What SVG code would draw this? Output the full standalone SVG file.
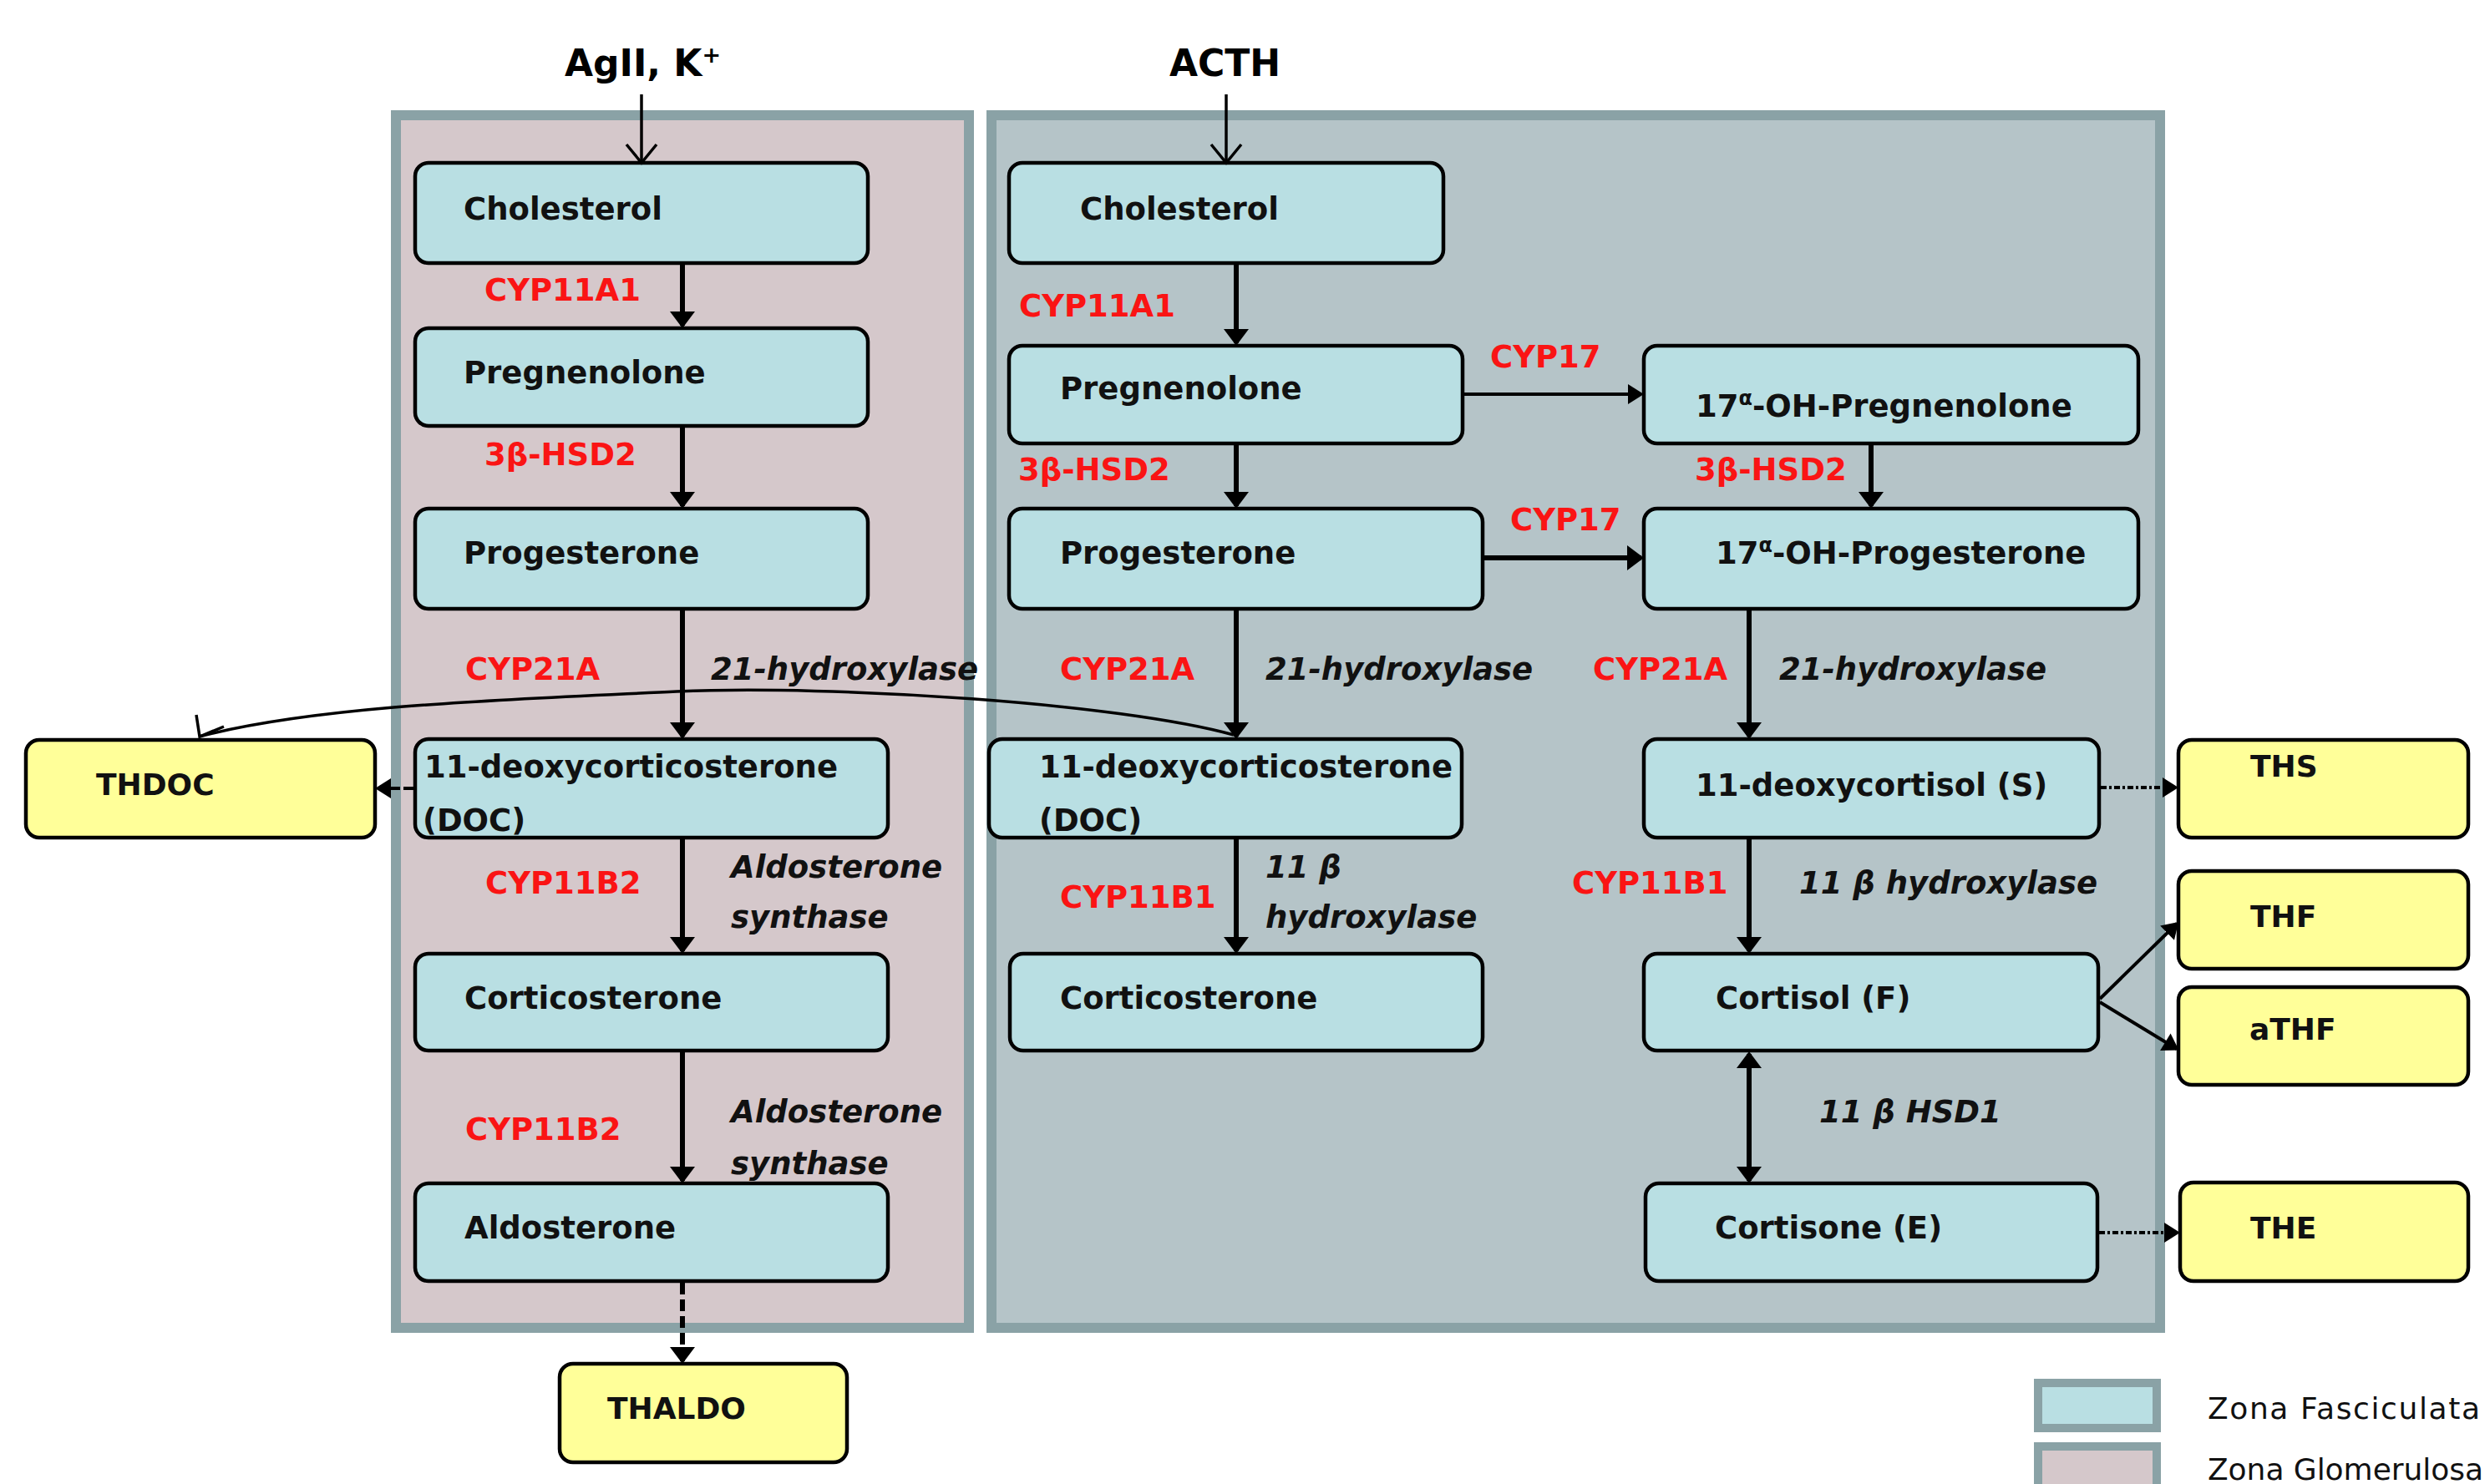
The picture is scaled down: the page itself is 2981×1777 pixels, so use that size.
<svg xmlns="http://www.w3.org/2000/svg" width="2981" height="1777" viewBox="0 0 2981 1777">
<style>
.bg{fill:#ffffff}
.pl{fill:#d5c8cb;stroke:#8aa2a6;stroke-width:12}
.pr{fill:#b5c4c8;stroke:#8aa2a6;stroke-width:12}
.box{fill:#b9dfe3;stroke:#000;stroke-width:4.5}
.ybox{fill:#ffff99;stroke:#000;stroke-width:4.5}
.t{font-family:"DejaVu Sans",Verdana,sans-serif;font-weight:bold;font-size:37px;fill:#111}
.ty{font-family:"DejaVu Sans",Verdana,sans-serif;font-weight:bold;font-size:36px;fill:#111}
.enz{font-family:"DejaVu Sans",Verdana,sans-serif;font-weight:bold;font-size:37px;fill:#fa1414}
.it{font-family:"DejaVu Sans",Verdana,sans-serif;font-weight:bold;font-style:italic;font-size:37px;fill:#111}
.title{font-family:"DejaVu Sans",Verdana,sans-serif;font-weight:bold;font-size:44px;fill:#000}
.leg{font-family:"DejaVu Sans",Verdana,sans-serif;font-size:36px;fill:#111}
.main{fill:none;stroke:#000;stroke-width:6;marker-end:url(#ah)}
.thin{fill:none;stroke:#000;stroke-width:4;marker-end:url(#ahs)}
.inp{fill:none;stroke:#000;stroke-width:3.5;marker-end:url(#open)}
.dd{fill:none;stroke:#000;stroke-width:4;stroke-dasharray:7,3,3,3;marker-end:url(#ahs)}
</style>
<defs>
<marker id="ah" markerUnits="userSpaceOnUse" markerWidth="24" markerHeight="32" refX="17" refY="15" orient="auto" overflow="visible"><path d="M0,0 L20,15 L0,30 Z" fill="#000"/></marker>
<marker id="ahd" markerUnits="userSpaceOnUse" markerWidth="24" markerHeight="32" refX="17" refY="15" orient="auto-start-reverse" overflow="visible"><path d="M0,0 L20,15 L0,30 Z" fill="#000"/></marker>
<marker id="ahs" markerUnits="userSpaceOnUse" markerWidth="22" markerHeight="26" refX="16" refY="12" orient="auto" overflow="visible"><path d="M0,0 L19,12 L0,24 Z" fill="#000"/></marker>
<marker id="open" markerUnits="userSpaceOnUse" markerWidth="30" markerHeight="40" refX="0" refY="0" orient="auto" overflow="visible"><path d="M-22,-18 L0,0 L-22,18" fill="none" stroke="#000" stroke-width="3.5"/></marker>
</defs>
<rect class="bg" x="0" y="0" width="2981" height="1777"/>

<g id="panels">
<rect id="zona-glomerulosa" class="pl" x="474" y="138" width="686" height="1452"/>
<rect id="zona-fasciculata" class="pr" x="1187" y="138" width="1399" height="1452"/>
</g>

<g id="titles">
<text class="title" x="676" y="91">AgII, K<tspan font-size="27" dy="-16">+</tspan></text>
<text class="title" x="1400" y="91">ACTH</text>
</g>

<g id="nodes">
<g id="chol-l"><rect class="box" x="497" y="195" width="542" height="120" rx="16"/><text class="t" x="555" y="263">Cholesterol</text></g>
<g id="preg-l"><rect class="box" x="497" y="393" width="542" height="117" rx="16"/><text class="t" x="555" y="459">Pregnenolone</text></g>
<g id="prog-l"><rect class="box" x="497" y="609" width="542" height="120" rx="16"/><text class="t" x="555" y="675">Progesterone</text></g>
<g id="doc-l"><rect class="box" x="497" y="885" width="566" height="118" rx="16"/><text class="t" x="508" y="931">11-deoxycorticosterone</text><text class="t" x="506" y="995">(DOC)</text></g>
<g id="cort-l"><rect class="box" x="497" y="1142" width="566" height="116" rx="16"/><text class="t" x="556" y="1208">Corticosterone</text></g>
<g id="aldo"><rect class="box" x="497" y="1417" width="566" height="117" rx="16"/><text class="t" x="556" y="1483">Aldosterone</text></g>

<g id="chol-r"><rect class="box" x="1208" y="195" width="520" height="120" rx="16"/><text class="t" x="1293" y="263">Cholesterol</text></g>
<g id="preg-r"><rect class="box" x="1208" y="414" width="543" height="117" rx="16"/><text class="t" x="1269" y="478">Pregnenolone</text></g>
<g id="prog-r"><rect class="box" x="1208" y="609" width="567" height="120" rx="16"/><text class="t" x="1269" y="675">Progesterone</text></g>
<g id="doc-r"><rect class="box" x="1184" y="885" width="566" height="118" rx="16"/><text class="t" x="1244" y="931">11-deoxycorticosterone</text><text class="t" x="1244" y="995">(DOC)</text></g>
<g id="cort-r"><rect class="box" x="1209" y="1142" width="566" height="116" rx="16"/><text class="t" x="1269" y="1208">Corticosterone</text></g>

<g id="ohpreg"><rect class="box" x="1968" y="414" width="592" height="117" rx="16"/><text class="t" x="2030" y="499">17<tspan font-size="24" dy="-14">α</tspan><tspan dy="14">-OH-Pregnenolone</tspan></text></g>
<g id="ohprog"><rect class="box" x="1968" y="609" width="592" height="120" rx="16"/><text class="t" x="2054" y="675">17<tspan font-size="24" dy="-14">α</tspan><tspan dy="14">-OH-Progesterone</tspan></text></g>
<g id="deoxycortisol"><rect class="box" x="1968" y="885" width="545" height="118" rx="16"/><text class="t" x="2030" y="953">11-deoxycortisol (S)</text></g>
<g id="cortisol"><rect class="box" x="1968" y="1142" width="544" height="116" rx="16"/><text class="t" x="2054" y="1208">Cortisol (F)</text></g>
<g id="cortisone"><rect class="box" x="1970" y="1417" width="541" height="117" rx="16"/><text class="t" x="2053" y="1483">Cortisone (E)</text></g>

<g id="thdoc"><rect class="ybox" x="31" y="886" width="418" height="117" rx="16"/><text class="ty" x="115" y="952">THDOC</text></g>
<g id="thaldo"><rect class="ybox" x="670" y="1633" width="344" height="118" rx="16"/><text class="ty" x="727" y="1699">THALDO</text></g>
<g id="ths"><rect class="ybox" x="2608" y="886" width="347" height="117" rx="16"/><text class="ty" x="2694" y="930">THS</text></g>
<g id="thf"><rect class="ybox" x="2608" y="1043" width="347" height="117" rx="16"/><text class="ty" x="2694" y="1110">THF</text></g>
<g id="athf"><rect class="ybox" x="2608" y="1182" width="347" height="117" rx="16"/><text class="ty" x="2693" y="1245">aTHF</text></g>
<g id="the"><rect class="ybox" x="2610" y="1416" width="345" height="118" rx="16"/><text class="ty" x="2694" y="1483">THE</text></g>
</g>

<g id="connectors">
<path class="inp" d="M768,113 V195"/>
<path class="inp" d="M1468,113 V195"/>
<path class="main" d="M817,317 V390"/>
<path class="main" d="M817,512 V606"/>
<path class="main" d="M817,731 V882"/>
<path class="main" d="M817,1005 V1139"/>
<path class="main" d="M817,1260 V1414"/>
<path class="main" d="M817,1536 V1630" stroke-dasharray="14,6"/>
<path class="thin" d="M495,944 H452" stroke-dasharray="12,4"/>
<path class="main" d="M1480,317 V411"/>
<path class="main" d="M1480,533 V606"/>
<path class="main" d="M1480,731 V882"/>
<path class="main" d="M1480,1005 V1139"/>
<path class="thin" d="M1753,472 H1965"/>
<path class="main" d="M1777,668 H1965"/>
<path class="main" d="M2240,533 V606"/>
<path class="main" d="M2094,731 V882"/>
<path class="main" d="M2094,1005 V1139"/>
<path fill="none" stroke="#000" stroke-width="6" marker-start="url(#ahd)" marker-end="url(#ahd)" d="M2094,1262 V1414"/>
<path class="dd" d="M2515,943 H2605"/>
<path class="dd" d="M2513,1476 H2607"/>
<path class="thin" d="M2514,1196 L2606,1106"/>
<path class="thin" d="M2514,1200 L2606,1256"/>
<path fill="none" stroke="#000" stroke-width="3.5" d="M1477,880 C1340,842 1000,820 810,828 C600,838 380,845 239,882"/>
<path fill="none" stroke="#000" stroke-width="3.5" d="M235,856 L239,882 L268,870"/>
</g>

<g id="labels">
<text class="enz" x="580" y="360">CYP11A1</text>
<text class="enz" x="580" y="557">3β-HSD2</text>
<text class="enz" x="557" y="814">CYP21A</text>
<text class="it" x="851" y="814">21-hydroxylase</text>
<text class="enz" x="581" y="1070">CYP11B2</text>
<text class="it" x="875" y="1051">Aldosterone</text>
<text class="it" x="875" y="1111">synthase</text>
<text class="enz" x="557" y="1365">CYP11B2</text>
<text class="it" x="875" y="1344">Aldosterone</text>
<text class="it" x="875" y="1406">synthase</text>

<text class="enz" x="1220" y="379">CYP11A1</text>
<text class="enz" x="1784" y="440">CYP17</text>
<text class="enz" x="1219" y="575">3β-HSD2</text>
<text class="enz" x="1808" y="635">CYP17</text>
<text class="enz" x="1269" y="814">CYP21A</text>
<text class="it" x="1515" y="814">21-hydroxylase</text>
<text class="it" x="1515" y="1051">11 β</text>
<text class="it" x="1515" y="1111">hydroxylase</text>
<text class="enz" x="1269" y="1087">CYP11B1</text>

<text class="enz" x="2029" y="575">3β-HSD2</text>
<text class="enz" x="1907" y="814">CYP21A</text>
<text class="it" x="2130" y="814">21-hydroxylase</text>
<text class="enz" x="1882" y="1070">CYP11B1</text>
<text class="it" x="2154" y="1070">11 β hydroxylase</text>
<text class="it" x="2178" y="1344">11 β HSD1</text>
</g>

<g id="legend">
<rect class="pr" x="2440" y="1656" width="142" height="54" style="fill:#b9dfe3;stroke-width:10"/>
<rect class="pl" x="2440" y="1732" width="142" height="60" style="stroke-width:10"/>
<text class="leg" x="2643" y="1699" textLength="326">Zona Fasciculata</text>
<text class="leg" x="2643" y="1772" textLength="330">Zona Glomerulosa</text>
</g>
</svg>
